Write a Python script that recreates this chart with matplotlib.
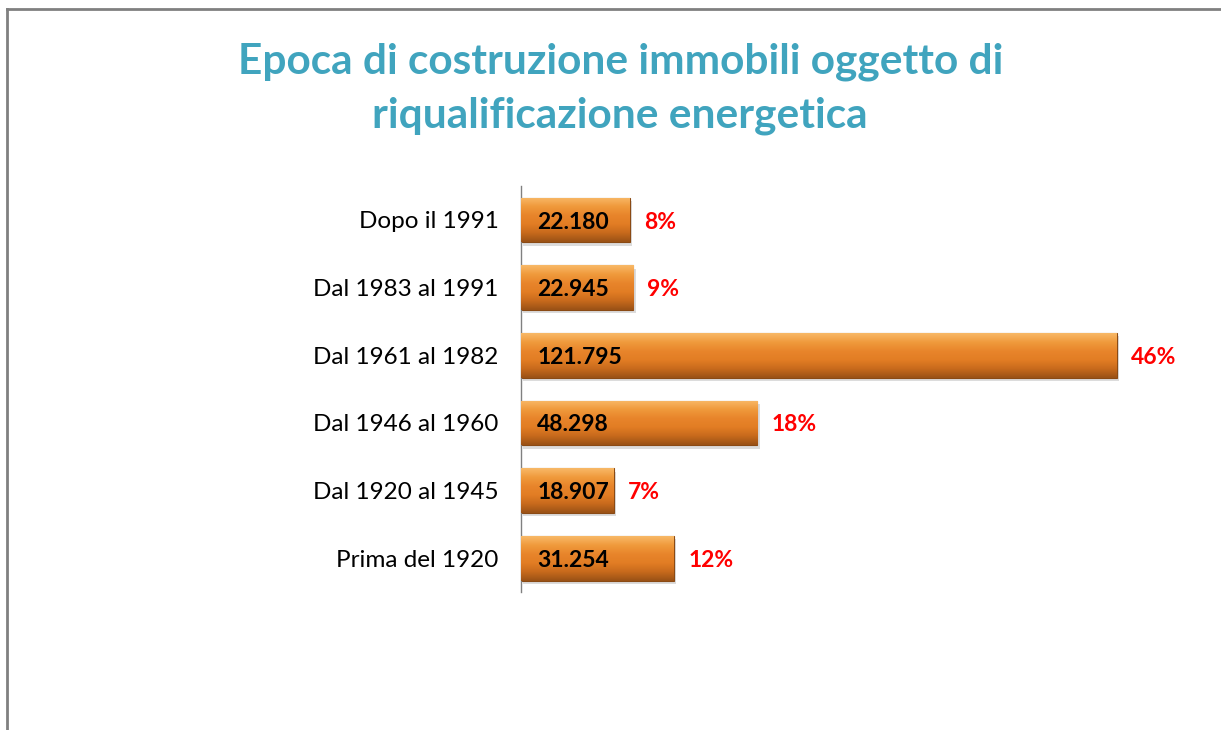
import numpy as np
import matplotlib.pyplot as plt
from matplotlib.colors import LinearSegmentedColormap
from matplotlib.lines import Line2D

# data (top to bottom)
categories = ['Dopo il 1991', 'Dal 1983 al 1991', 'Dal 1961 al 1982',
              'Dal 1946 al 1960', 'Dal 1920 al 1945', 'Prima del 1920']
values = [22180, 22945, 121795, 48298, 18907, 31254]
value_labels = ['22.180', '22.945', '121.795', '48.298', '18.907', '31.254']
pct_labels = ['8%', '9%', '46%', '18%', '7%', '12%']

title = 'Epoca di costruzione immobili oggetto di\nriqualificazione energetica'

plt.rcParams['font.family'] = ['Lato', 'DejaVu Sans']

fig = plt.figure(figsize=(12.21, 7.30), dpi=100)
ax = fig.add_axes([0.4267, 0.189, 0.561, 0.556])

# orange gradient for each bar: light top edge, orange body, darker bottom
grad = LinearSegmentedColormap.from_list(
    'bar', ['#f8b867', '#f09a3c', '#e8852b', '#e27d24', '#c86a1c', '#9a5216'])
g = np.linspace(0, 1, 64).reshape(-1, 1)

y = np.arange(len(categories))
h = 0.66
bars = ax.barh(y, values, height=h, color='#e8832a', edgecolor='#8a4a14',
               linewidth=0.8, zorder=2)
for b in bars:
    x0, y0 = b.get_x(), b.get_y()
    w, hh = b.get_width(), b.get_height()
    im = ax.imshow(g, cmap=grad, aspect='auto', origin='upper',
                   extent=[x0, x0 + w, y0 + hh, y0], zorder=3)
    im.set_clip_path(b)
    # soft shadow below/right of each bar
    ax.add_patch(plt.Rectangle((x0 + 500, y0 + 0.05), w, hh, color='#bbbbbb',
                               alpha=0.5, zorder=1, lw=0))

ax.set_xlim(0, 140000)
ax.set_ylim(len(categories) - 0.5, -0.5)

for i, v in enumerate(values):
    ax.text(3300, i + 0.03, value_labels[i], va='center', ha='left',
            fontsize=16.5, fontweight='bold', color='black', zorder=4)
    ax.text(v + 2900, i + 0.03, pct_labels[i], va='center', ha='left',
            fontsize=16.5, fontweight='bold', color='#ff0000')

ax.set_yticks(y)
ax.set_yticklabels(categories, fontsize=17.5, color='black')
ax.tick_params(axis='y', length=0, pad=16)
ax.set_xticks([])
for s in ['top', 'right', 'bottom']:
    ax.spines[s].set_visible(False)
ax.spines['left'].set_color('#808080')
ax.spines['left'].set_linewidth(1.0)

fig.text(0.508, 0.878, title, ha='center', va='center', fontsize=30.5,
         fontweight='bold', color='#40a4be', linespacing=1.5)

# outer frame (top and left edges only visible)
fig.add_artist(Line2D([7 / 1221, 1], [1 - 8.5 / 730, 1 - 8.5 / 730],
                      transform=fig.transFigure, color='#808080', lw=2))
fig.add_artist(Line2D([7 / 1221, 7 / 1221], [0, 1 - 8.5 / 730],
                      transform=fig.transFigure, color='#808080', lw=2))

fig.savefig('out.png', dpi=100)
